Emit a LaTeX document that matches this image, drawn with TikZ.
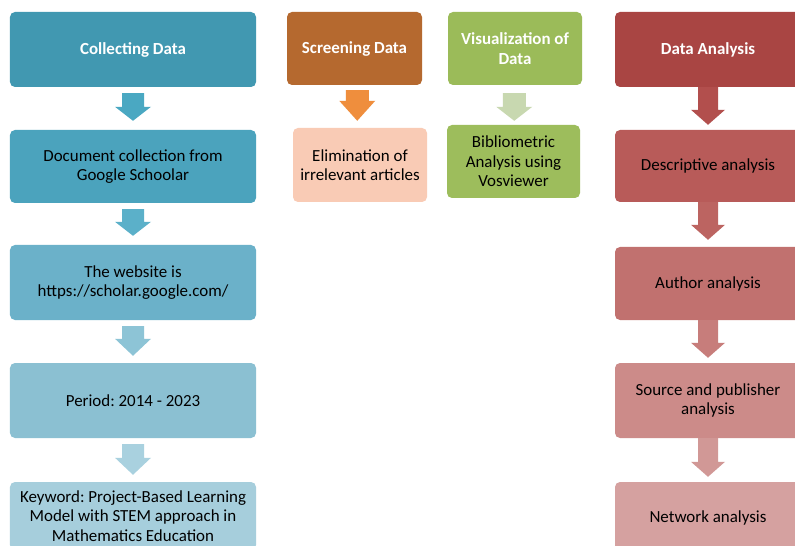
\documentclass[tikz,border=0pt]{standalone}
\usepackage{fontspec}
\setmainfont{Carlito}
\frenchspacing
\usetikzlibrary{calc}
\definecolor{cA}{HTML}{4198B1}
\definecolor{cB}{HTML}{4BA3BD}
\definecolor{cC}{HTML}{6BB1C9}
\definecolor{cD}{HTML}{8BC0D2}
\definecolor{cE}{HTML}{A6CEDC}
\definecolor{aA}{HTML}{4AA8C2}
\definecolor{aB}{HTML}{5BB0C9}
\definecolor{aC}{HTML}{8DC4D6}
\definecolor{aD}{HTML}{A9D1DF}
\definecolor{sA}{HTML}{B5692F}
\definecolor{sArr}{HTML}{EF8E3D}
\definecolor{sB}{HTML}{F9CBB5}
\definecolor{vA}{HTML}{9BBB59}
\definecolor{vArr}{HTML}{C8D8B0}
\definecolor{vB}{HTML}{9DBD5C}
\definecolor{rA}{HTML}{A94543}
\definecolor{rB}{HTML}{B85B59}
\definecolor{rC}{HTML}{C1716F}
\definecolor{rD}{HTML}{CC8B89}
\definecolor{rE}{HTML}{D5A1A0}
\definecolor{raA}{HTML}{B24F4D}
\definecolor{raB}{HTML}{BC6461}
\definecolor{raC}{HTML}{C77D7B}
\definecolor{raD}{HTML}{D19896}
\newcommand\blockarrow[8]{%
  \path ($(#1.south)!0.5!(#2.north)$) coordinate (ba-m);
  \coordinate (ba-t) at (ba-m |- #1.south);
  \coordinate (ba-b) at (ba-m |- #2.north);
  \fill[#3] ($(ba-t)+(-#6,#4)$) -- ($(ba-t)+(#6,#4)$) -- ($(ba-b)+(#6,-#5-#8)$)
    -- ($(ba-b)+(#7,-#5-#8)$) -- ($(ba-b)+(0,-#5)$) -- ($(ba-b)+(-#7,-#5-#8)$)
    -- ($(ba-b)+(-#6,-#5-#8)$) -- cycle;}
\tikzset{
  box/.style={rectangle, rounded corners=5bp, inner sep=0pt, align=center,
    font=\fontsize{17}{19.5}\selectfont, text=black},
  title/.style={box, text=white, font=\fontsize{17}{19.5}\selectfont\bfseries},
}
\begin{document}
\begin{tikzpicture}[x=1bp, y=-1bp]
\useasboundingbox (0,0) rectangle (795,546);
\fill[white] (0,0) rectangle (795,546);
% left column
\node[title, fill=cA, minimum width=246bp, minimum height=75bp] (L1) at (133,49.5) {Collecting Data};
\node[box, fill=cB, minimum width=246bp, minimum height=73bp] (L2) at (133,166.5) {Document collection from\\Google Schoolar};
\node[box, fill=cC, minimum width=246bp, minimum height=75bp] (L3) at (133,282.5) {The website is\\https://scholar.google.com/};
\node[box, fill=cD, minimum width=246bp, minimum height=75bp] (L4) at (133,400.5) {Period: 2014 - 2023};
\node[box, fill=cE, minimum width=246bp, minimum height=68bp] (L5) at (133,516) {Keyword: Project-Based Learning\\Model with STEM approach in\\Mathematics Education};
\blockarrow{L1}{L2}{aA}{6}{9}{11}{18}{14}
\blockarrow{L2}{L3}{aB}{6}{9}{11}{18}{14}
\blockarrow{L3}{L4}{aC}{6}{7}{11}{18}{17}
\blockarrow{L4}{L5}{aD}{6}{7}{11}{18}{17}
% screening
\node[title, fill=sA, minimum width=135bp, minimum height=73bp] (S1) at (354.5,48.5) {Screening Data};
\node[box, fill=sB, minimum width=134bp, minimum height=74bp] (S2) at (360,165) {Elimination of\\irrelevant articles};
\blockarrow{S1}{S2}{sArr}{5}{7}{11.5}{18}{20}
% visualization
\node[title, fill=vA, minimum width=134bp, minimum height=73bp] (V1) at (515,48.5) {Visualization of\\Data};
\node[box, fill=vB, minimum width=133bp, minimum height=73bp] (V2) at (513.5,161.5) {Bibliometric\\Analysis using\\Vosviewer};
\blockarrow{V1}{V2}{vArr}{8}{4}{11.5}{18}{14}
% data analysis
\node[title, fill=rA, minimum width=186bp, minimum height=75bp] (R1) at (708,49.5) {Data Analysis};
\node[box, fill=rB, minimum width=186bp, minimum height=72bp] (R2) at (708,166) {Descriptive analysis};
\node[box, fill=rC, minimum width=186bp, minimum height=73bp] (R3) at (708,283.5) {Author analysis};
\node[box, fill=rD, minimum width=186bp, minimum height=75bp] (R4) at (708,400.5) {Source and publisher\\analysis};
\node[box, fill=rE, minimum width=186bp, minimum height=72bp] (R5) at (708,518) {Network analysis};
\blockarrow{R1}{R2}{raA}{0}{5}{10}{17}{15}
\blockarrow{R2}{R3}{raB}{0}{7}{10}{17}{15}
\blockarrow{R3}{R4}{raC}{0}{5}{10}{17}{15}
\blockarrow{R4}{R5}{raD}{0}{5}{10}{17}{15}
\end{tikzpicture}
\end{document}
